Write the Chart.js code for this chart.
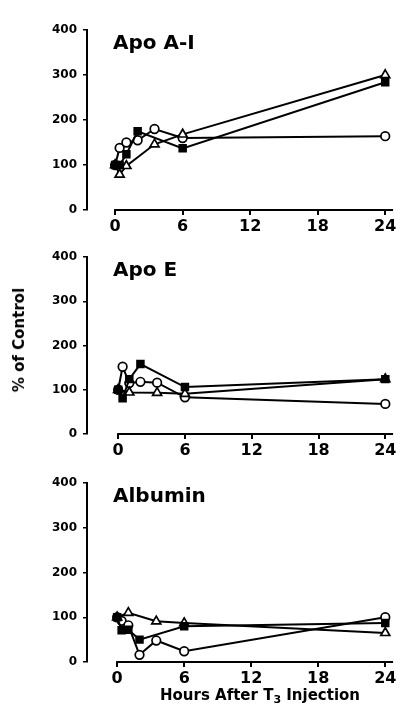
<!DOCTYPE html>
<html>
<head>
<meta charset="utf-8">
<script src="https://cdn.jsdelivr.net/npm/chart.js@4.4.1/dist/chart.umd.min.js"></script>
<style>
    html, body { margin: 0; padding: 0; background: #fff; }
    body { width: 400px; height: 708px; position: relative; overflow: hidden; font-family: "DejaVu Sans", sans-serif; }
    .panel { position: absolute; left: 0; width: 400px; }
    #y-title {
        position: absolute; left: 19px; top: 340px;
        transform: translate(-50%, -50%) rotate(-90deg);
        font: bold 15px "DejaVu Sans"; white-space: nowrap; color: #000;
    }
    #x-title {
        position: absolute; left: 260px; top: 695px;
        transform: translate(-50%, -50%);
        font: bold 15px "DejaVu Sans"; white-space: nowrap; color: #000;
    }
    #x-title sub { font-size: 11px; vertical-align: -3px; line-height: 0; }
</style>
</head>
<body>
<div class="panel" id="p1" style="top:0px;height:240px"><canvas id="c1"></canvas></div>
<div class="panel" id="p2" style="top:227px;height:237px"><canvas id="c2"></canvas></div>
<div class="panel" id="p3" style="top:453px;height:239px"><canvas id="c3"></canvas></div>
<div id="y-title">% of Control</div>
<div id="x-title">Hours After T<sub>3</sub> Injection</div>

<script>
// Chart data

// x tick labels (hours)
const hourTicks = [0, 6, 12, 18, 24];
const yTicks = [0, 100, 200, 300, 400];

// Apo A-I
const apoAICircleX = [0, 0.4, 1, 2, 3.5, 6, 24];
const apoAICircleY = [100, 138, 150, 155, 180, 160, 164];
const apoAISquareX = [0, 0.4, 1, 2, 6, 24];
const apoAISquareY = [100, 100, 124, 175, 137, 284];
const apoAITriangleX = [0, 0.4, 1, 3.5, 6, 24];
const apoAITriangleY = [100, 79, 98, 146, 168, 300];

// Apo E
const apoECircleX = [0, 0.4, 1, 2, 3.5, 6, 24];
const apoECircleY = [100, 152, 115, 118, 116, 83, 68];
const apoESquareX = [0, 0.4, 1, 2, 6, 24];
const apoESquareY = [100, 81, 124, 158, 106, 124];
const apoETriangleX = [0, 1, 3.5, 6, 24];
const apoETriangleY = [100, 94, 93, 91, 124];

// Albumin
const albuminCircleX = [0, 0.4, 1, 2, 3.5, 6, 24];
const albuminCircleY = [100, 92, 82, 16, 48, 24, 100];
const albuminSquareX = [0, 0.4, 1, 2, 6, 24];
const albuminSquareY = [100, 71, 72, 50, 80, 87];
const albuminTriangleX = [0, 1, 3.5, 6, 24];
const albuminTriangleY = [100, 110, 91, 87, 65];

// Build {x, y} points from two arrays
function toPoints(xs, ys) {
    return xs.map((x, i) => ({ x: x, y: ys[i] }));
}

// Draws the panel name and the x axis line (which starts at hour 0)
const panelDecor = {
    id: 'panelDecor',
    beforeDatasetsDraw(chart, args, opts) {
        const { ctx, chartArea } = chart;
        const xScale = chart.scales.x;
        ctx.save();
        ctx.strokeStyle = '#000';
        ctx.lineWidth = 2;
        ctx.beginPath();
        ctx.moveTo(xScale.getPixelForValue(0) - 1, chartArea.bottom);
        ctx.lineTo(chartArea.right, chartArea.bottom);
        ctx.stroke();

        ctx.fillStyle = '#000';
        ctx.font = 'bold 20px "DejaVu Sans"';
        ctx.textBaseline = 'alphabetic';
        ctx.fillText(opts.text, chartArea.left + 26, chartArea.top + 19);
        ctx.restore();
    }
};

function makeDataset(points, style) {
    const common = {
        data: points,
        showLine: true,
        borderColor: '#000',
        borderWidth: 2,
        tension: 0,
        pointBorderColor: '#000',
        pointBorderWidth: 1.7
    };
    if (style === 'circle') {
        return Object.assign(common, { pointStyle: 'circle', pointRadius: 4.3, pointBackgroundColor: '#fff' });
    }
    if (style === 'rect') {
        return Object.assign(common, { pointStyle: 'rect', pointRadius: 4.8, pointBackgroundColor: '#000' });
    }
    return Object.assign(common, { pointStyle: 'triangle', pointRadius: 5.2, pointBackgroundColor: '#fff' });
}

// Create one panel
function makePanel(canvasId, title, xMin, series) {
    const canvas = document.getElementById(canvasId);
    return new Chart(canvas, {
        type: 'scatter',
        data: {
            datasets: [
                makeDataset(toPoints(series.squareX, series.squareY), 'rect'),
                makeDataset(toPoints(series.triangleX, series.triangleY), 'triangle'),
                makeDataset(toPoints(series.circleX, series.circleY), 'circle')
            ]
        },
        options: {
            responsive: true,
            maintainAspectRatio: false,
            animation: false,
            layout: { padding: { top: 30, right: 3, bottom: 5, left: 0 } },
            plugins: {
                legend: { display: false },
                tooltip: { enabled: false },
                panelDecor: { text: title }
            },
            scales: {
                x: {
                    type: 'linear',
                    min: xMin,
                    max: 24.7,
                    afterBuildTicks: scale => {
                        scale.ticks = hourTicks.map(v => ({ value: v }));
                    },
                    afterFit: scale => { scale.height = 25; },
                    border: { display: false },
                    grid: { drawOnChartArea: false, drawTicks: true, tickLength: 5, color: '#000', lineWidth: 2 },
                    ticks: {
                        color: '#000',
                        padding: 2,
                        font: { family: 'DejaVu Sans', weight: 'bold', size: 16 }
                    }
                },
                y: {
                    min: 0,
                    max: 400,
                    afterBuildTicks: scale => {
                        scale.ticks = yTicks.map(v => ({ value: v }));
                    },
                    afterFit: scale => { scale.width = 87; },
                    border: { display: true, color: '#000', width: 2 },
                    grid: { drawOnChartArea: false, drawTicks: true, tickLength: 4, color: '#000', lineWidth: 1.5 },
                    ticks: {
                        color: '#000',
                        padding: 6,
                        font: { family: 'DejaVu Sans', weight: 'bold', size: 12 }
                    }
                }
            }
        },
        plugins: [panelDecor]
    });
}

makePanel('c1', 'Apo A-I', -2.5, {
    circleX: apoAICircleX, circleY: apoAICircleY,
    squareX: apoAISquareX, squareY: apoAISquareY,
    triangleX: apoAITriangleX, triangleY: apoAITriangleY
});
makePanel('c2', 'Apo E', -2.8, {
    circleX: apoECircleX, circleY: apoECircleY,
    squareX: apoESquareX, squareY: apoESquareY,
    triangleX: apoETriangleX, triangleY: apoETriangleY
});
makePanel('c3', 'Albumin', -2.7, {
    circleX: albuminCircleX, circleY: albuminCircleY,
    squareX: albuminSquareX, squareY: albuminSquareY,
    triangleX: albuminTriangleX, triangleY: albuminTriangleY
});
</script>
</body>
</html>
